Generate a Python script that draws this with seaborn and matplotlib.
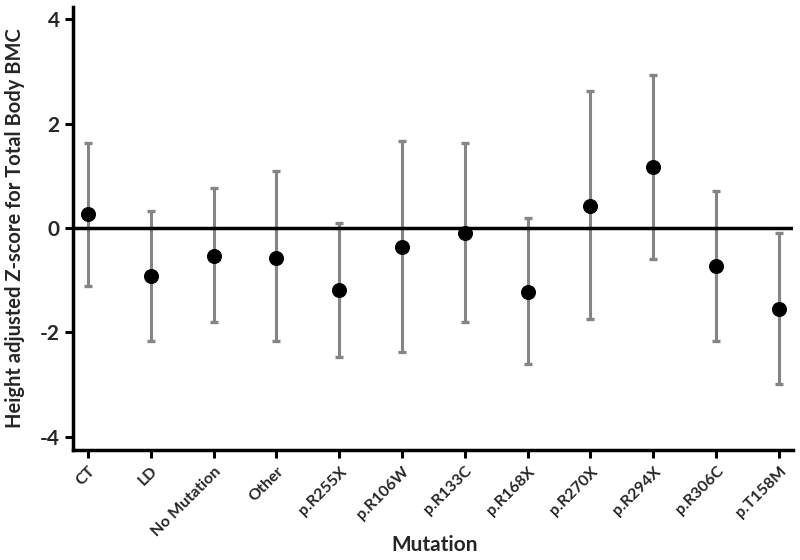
import matplotlib
matplotlib.use("Agg")
import matplotlib.pyplot as plt
import seaborn as sns
import pandas as pd

# values
mutations = ["CT", "LD", "No Mutation", "Other", "p.R255X", "p.R106W",
             "p.R133C", "p.R168X", "p.R270X", "p.R294X", "p.R306C", "p.T158M"]
zscore = [0.26, -0.93, -0.54, -0.57, -1.19, -0.36, -0.10, -1.22, 0.43, 1.16, -0.72, -1.55]
upper = [1.63, 0.33, 0.76, 1.09, 0.10, 1.66, 1.63, 0.20, 2.62, 2.94, 0.70, -0.10]
lower = [-1.11, -2.17, -1.81, -2.17, -2.48, -2.37, -1.81, -2.60, -1.75, -0.59, -2.17, -3.00]

df = pd.DataFrame({"Mutation": mutations, "z": zscore, "hi": upper, "lo": lower})

sns.set_style("ticks")
plt.rcParams["font.family"] = ["Lato", "DejaVu Sans"]

fig = plt.figure(figsize=(8, 5.6), dpi=100)
ax = fig.add_axes([0.091, 0.196, 0.9, 0.792])

x = list(range(len(mutations)))
ax.errorbar(x, df["z"], yerr=[df["z"] - df["lo"], df["hi"] - df["z"]],
            fmt="none", ecolor="#858585", elinewidth=2.2, capsize=3.2, capthick=2.4, zorder=2)
sns.scatterplot(x=x, y=df["z"], color="black", s=100, edgecolor="black", zorder=4, ax=ax)
ax.axhline(0, color="black", lw=2.5, zorder=3)

ax.set_xlim(-0.24, 11.22)
ax.set_ylim(-4.26, 4.24)
ax.set_xticks(x)
ax.set_xticklabels(mutations, rotation=45, ha="right", rotation_mode="anchor",
                   fontsize=11.5, fontweight="bold")
ax.set_yticks([-4, -2, 0, 2, 4])
ax.set_yticklabels(["-4", "-2", "0", "2", "4"], fontsize=15, fontweight="bold")
ax.tick_params(axis="both", direction="out", length=6, width=2.2, color="black")
ax.tick_params(axis="x", pad=4)

for side in ["left", "bottom"]:
    ax.spines[side].set_linewidth(2.5)
    ax.spines[side].set_color("black")
sns.despine(ax=ax)

ax.set_xlabel("Mutation", fontsize=15, fontweight="bold")
ax.xaxis.set_label_coords(0.503, -0.19)
ax.set_ylabel("Height adjusted Z-score for Total Body BMC", fontsize=14.5, fontweight="bold")
ax.yaxis.set_label_coords(-0.066, 0.5)

fig.savefig("out.png", dpi=100)
